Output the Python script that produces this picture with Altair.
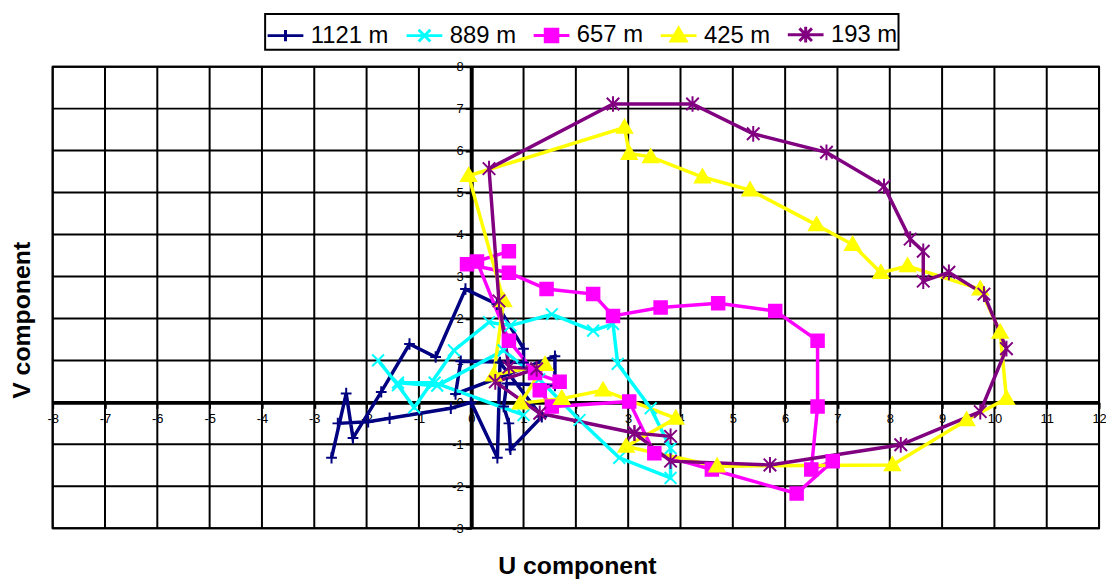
import altair as alt
import pandas as pd

series_names = ["1121 m", "889 m", "657 m", "425 m", "193 m"]
colors = ["#000080", "#00FFFF", "#FF00FF", "#FFFF00", "#800080"]

u_1121 = [-2.67, -2.39, -2.26, -1.72, -1.18, -0.68, -0.11, 0.49, 1.00, 1.00, -0.20, -0.30, 1.60, 1.60, 0.68, 0.62, 0.72, 0.75, 1.35, 0.55, 0.50, 0.00, -0.39, -1.56, -1.97, -2.55]
v_1121 = [-1.32, 0.21, -0.85, 0.25, 1.39, 1.08, 2.70, 2.34, 1.28, 0.95, 0.98, 0.20, 1.10, 0.40, 0.45, -0.10, -0.50, -1.12, -0.34, 0.95, -1.32, 0.00, -0.14, -0.38, -0.46, -0.50]

u_889 = [-1.78, -1.40, -1.09, -0.33, 0.34, 0.75, 1.54, 2.33, 2.71, 2.80, 3.43, 3.81, 3.81, 2.83, 2.07, 1.30, 0.62, -0.65, -1.40, -0.70, 1.00]
v_889 = [1.00, 0.41, -0.12, 1.24, 1.91, 1.83, 2.10, 1.71, 1.87, 0.92, -0.14, -1.09, -1.80, -1.32, -0.42, 0.55, 1.24, 0.40, 0.47, 0.47, -0.30]

u_657 = [0.72, -0.08, 0.72, 1.44, 2.33, 2.71, 3.62, 4.72, 5.81, 6.62, 6.62, 6.50, 6.91, 6.22, 4.60, 3.50, 3.02, 1.54, 1.31, 1.69, 1.22, 0.72, 0.11]
v_657 = [3.60, 3.29, 3.09, 2.70, 2.58, 2.06, 2.26, 2.36, 2.18, 1.47, -0.10, -1.60, -1.40, -2.17, -1.60, -1.21, 0.02, -0.10, 0.29, 0.49, 0.70, 1.47, 3.36]

u_425 = [1.73, 0.94, 1.41, 0.43, 0.62, -0.05, 2.93, 3.02, 3.43, 4.42, 5.33, 6.60, 7.29, 7.83, 8.34, 9.73, 10.11, 10.23, 9.47, 8.05, 4.70, 2.96, 3.91, 2.52, 1.73]
v_425 = [0.09, -0.02, 0.90, 0.65, 2.42, 5.40, 6.55, 5.93, 5.85, 5.37, 5.06, 4.23, 3.76, 3.09, 3.25, 2.70, 1.67, 0.09, -0.42, -1.49, -1.52, -1.05, -0.38, 0.29, 0.09]

u_193 = [3.81, 3.12, 3.81, 5.71, 8.21, 9.73, 10.23, 9.80, 9.13, 8.64, 8.64, 8.39, 7.89, 6.79, 5.39, 4.23, 2.71, 0.34, 0.53, 0.72, 1.25, 0.46, 1.31, 3.12]
v_193 = [-0.81, -0.73, -1.40, -1.49, -1.01, -0.22, 1.28, 2.58, 3.10, 2.89, 3.60, 3.89, 5.15, 5.96, 6.40, 7.11, 7.11, 5.57, 2.42, 0.84, 0.80, 0.49, -0.26, -0.73]

x_ticks = list(range(-8, 13))
y_ticks = list(range(-3, 9))

series_u = [u_1121, u_889, u_657, u_425, u_193]
series_v = [v_1121, v_889, v_657, v_425, v_193]

rows = []
for name, us, vs in zip(series_names, series_u, series_v):
    for i, (u, v) in enumerate(zip(us, vs)):
        rows.append({"series": name, "i": i, "u": u, "v": v})
df = pd.DataFrame(rows)

# marker shapes (unit box -1..1, scaled by sqrt(size)/2)
markers = [
    "M-0.3,0L0.3,0M0,-0.32L0,0.32",
    "M-0.33,-0.33L0.33,0.33M-0.33,0.33L0.33,-0.33",
    "M-0.35,-0.35L0.35,-0.35L0.35,0.35L-0.35,0.35Z",
    "M0,-0.42L0.42,0.3L-0.42,0.3Z",
    "M-0.35,-0.35L0.35,0.35M-0.35,0.35L0.35,-0.35M0,-0.44L0,0.44",
]
legend_line = "M-1,0L1,0"
legend_shapes = [legend_line + m for m in markers]

W, H = 1054, 465
XMIN, XMAX, YMIN, YMAX = -8, 12, -3, 8
x0_px = (0 - XMIN) / (XMAX - XMIN) * W
y0_from_bottom = (0 - YMIN) / (YMAX - YMIN) * H

xscale = alt.Scale(domain=[XMIN, XMAX], nice=False, zero=False)
yscale = alt.Scale(domain=[YMIN, YMAX], nice=False, zero=False)

xaxis = alt.Axis(
    values=x_ticks, offset=-y0_from_bottom, grid=False,
    domainColor="black", domainWidth=4, tickColor="black", tickWidth=2, tickSize=6,
    labelFont="Arial", labelFontSize=13, labelColor="black", labelPadding=4,
    labelOverlap=False, labelFlush=False, labelExpr="'' + datum.value",
    title="U component", titleFont="Arial", titleFontSize=25, titleFontWeight="bold",
    titleColor="black", titleX=W / 2 + 1, titleY=y0_from_bottom + 46,
    titleBaseline="alphabetic", titleAlign="center",
)
yaxis = alt.Axis(
    values=y_ticks, offset=-x0_px, grid=False,
    domainColor="black", domainWidth=4, tickColor="black", tickWidth=2, tickSize=6,
    labelFont="Arial", labelFontSize=13, labelColor="black", labelPadding=2,
    labelOverlap=False, labelFlush=False, labelExpr="'' + datum.value",
    title="V component", titleFont="Arial", titleFontSize=25, titleFontWeight="bold",
    titleColor="black", titleX=-(x0_px + 53 - 30), titleY=255,
    titleAngle=270, titleBaseline="alphabetic", titleAlign="center",
)

X = alt.X("u:Q", scale=xscale, axis=xaxis)
Y = alt.Y("v:Q", scale=yscale, axis=yaxis)

grid_x = alt.Chart(pd.DataFrame({"u": x_ticks})).mark_rule(color="black", strokeWidth=2).encode(x=X)
grid_y = alt.Chart(pd.DataFrame({"v": y_ticks})).mark_rule(color="black", strokeWidth=2).encode(y=Y)

cscale = alt.Scale(domain=series_names, range=colors)
SYM = 1296

lines = alt.Chart(df).mark_line(strokeWidth=3.5).encode(
    x=X, y=Y, order="i:Q",
    color=alt.Color("series:N", scale=cscale, legend=None),
)

points = alt.Chart(df).mark_point(filled=True, size=SYM, strokeWidth=2, opacity=1).encode(
    x=X, y=Y,
    color=alt.Color("series:N", scale=cscale, legend=None),
    stroke=alt.Stroke("series:N", scale=cscale, legend=None),
    shape=alt.Shape("series:N", scale=alt.Scale(domain=series_names, range=markers), legend=None),
)

leg = alt.Legend(
    orient="none", legendX=214, legendY=-53, direction="horizontal", columns=5,
    symbolSize=SYM, symbolStrokeWidth=3, labelFont="Arial", labelFontSize=24, labelColor="black",
    labelOffset=6, columnPadding=11, padding=1, title=None, strokeColor="black",
)

legend_layer = alt.Chart(df).transform_filter("false").mark_point(
    filled=True, size=SYM, strokeWidth=3, opacity=1
).encode(
    x=X, y=Y,
    color=alt.Color("series:N", scale=cscale, legend=leg),
    stroke=alt.Stroke("series:N", scale=cscale, legend=leg),
    shape=alt.Shape("series:N", scale=alt.Scale(domain=series_names, range=legend_shapes), legend=leg),
)

chart = alt.layer(grid_x, grid_y, lines, points, legend_layer).resolve_scale(
    color="independent", stroke="independent", shape="independent"
).properties(
    width=W, height=H,
    autosize=alt.AutoSizeParams(type="none"),
    padding={"left": 45, "top": 57, "right": 7, "bottom": 50},
).configure_view(stroke="black", strokeWidth=2).configure_legend(strokeWidth=2)

chart.save("out.html", embed_options={"renderer": "svg", "actions": False})
